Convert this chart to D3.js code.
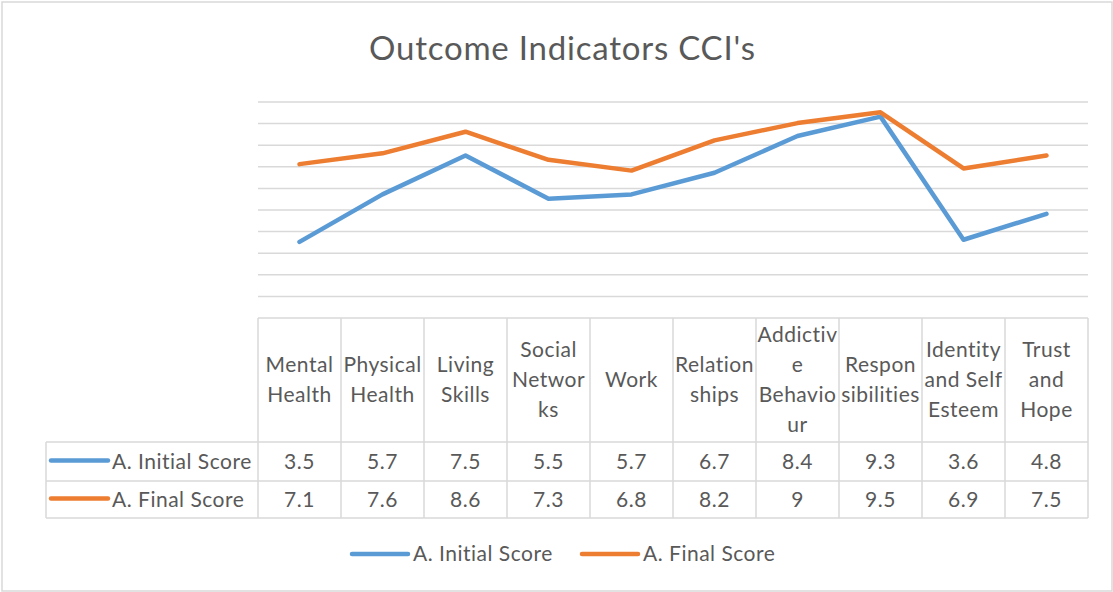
<!DOCTYPE html>
<html>
<head>
<meta charset="utf-8">
<script src="https://cdn.jsdelivr.net/npm/d3@7"></script>
<style>
  html, body { margin: 0; padding: 0; background: #fff; }
  svg { display: block; font-family: Lato, "Open Sans", sans-serif; }
  .lbl { font-size: 21px; letter-spacing: 0.5px; }
</style>
</head>
<body>
<div id="chart"></div>
<script>
// Outcome Indicators CCI's — line chart with Excel-style data table underneath.

const categories = [
  ["Mental", "Health"],
  ["Physical", "Health"],
  ["Living", "Skills"],
  ["Social", "Networ", "ks"],
  ["Work"],
  ["Relation", "ships"],
  ["Addictiv", "e", "Behavio", "ur"],
  ["Respon", "sibilities"],
  ["Identity", "and Self", "Esteem"],
  ["Trust", "and", "Hope"],
];
const initialScore = [3.5, 5.7, 7.5, 5.5, 5.7, 6.7, 8.4, 9.3, 3.6, 4.8];
const finalScore = [7.1, 7.6, 8.6, 7.3, 6.8, 8.2, 9, 9.5, 6.9, 7.5];
const seriesNames = ["A. Initial Score", "A. Final Score"];
const yDomain = [0, 10];

const W = 1113, H = 592;
const INK = "#595959", RULE = "#d9d9d9";
const colors = ["#5b9bd5", "#ed7d31"];
const series = [initialScore, finalScore];

const keys = categories.map((c) => c.join(" "));
const tbl = { left: 46, colLeft: 258, right: 1088, top: 318, head: 442, row1: 481, bottom: 518 };

const svg = d3.select("#chart").append("svg").attr("width", W).attr("height", H);

// outer chart frame
svg.append("rect").attr("x", 2).attr("y", 2).attr("width", W - 3).attr("height", H - 3)
  .attr("fill", "#fff").attr("stroke", RULE).attr("stroke-width", 1.5);

svg.append("text").attr("x", 369).attr("y", 60)
  .attr("textLength", 386).attr("lengthAdjust", "spacing")
  .attr("fill", INK).style("font-size", "33px").text("Outcome Indicators CCI's");

const x = d3.scaleBand().domain(keys).range([tbl.colLeft, tbl.right]);
const y = d3.scaleLinear().domain(yDomain).range([tbl.top - 0.5, 101.5]);
const cx = (k) => x(k) + x.bandwidth() / 2;

// horizontal gridlines (value 0 sits on the table's top border)
const grid = svg.append("g").attr("transform", `translate(${tbl.colLeft},0)`)
  .call(d3.axisLeft(y).tickValues(d3.range(1, 11)).tickSize(-(tbl.right - tbl.colLeft)).tickFormat(""));
grid.select(".domain").remove();
grid.selectAll("line").attr("stroke", RULE).attr("stroke-width", 1.5);

// lines
series.forEach((vals, i) => {
  svg.append("path").datum(vals)
    .attr("fill", "none").attr("stroke", colors[i]).attr("stroke-width", 4.5)
    .attr("stroke-linejoin", "round").attr("stroke-linecap", "round")
    .attr("d", d3.line().x((_, j) => cx(keys[j])).y((v) => y(v)));
});

// data table
const t = svg.append("g").attr("stroke", RULE).attr("stroke-width", 1.5);
const hline = (y0, x0) => t.append("line").attr("x1", x0).attr("x2", tbl.right).attr("y1", y0).attr("y2", y0);
hline(tbl.top, tbl.colLeft);
hline(tbl.head, tbl.left);
hline(tbl.row1, tbl.left);
hline(tbl.bottom, tbl.left);
t.append("line").attr("x1", tbl.left).attr("x2", tbl.left).attr("y1", tbl.head).attr("y2", tbl.bottom);
keys.concat([null]).forEach((k) => {
  const xx = k == null ? tbl.right : x(k);
  t.append("line").attr("x1", xx).attr("x2", xx).attr("y1", tbl.top).attr("y2", tbl.bottom);
});

// header labels
const lh = 30, headMid = (tbl.top + tbl.head) / 2;
categories.forEach((lines, i) => {
  const txt = svg.append("text").attr("class", "lbl").attr("text-anchor", "middle").attr("fill", INK);
  lines.forEach((ln, j) => {
    txt.append("tspan").attr("x", cx(keys[i]))
      .attr("y", headMid + (j - (lines.length - 1) / 2) * lh + 7).text(ln);
  });
});

// value rows
const rowMid = [(tbl.head + tbl.row1) / 2, (tbl.row1 + tbl.bottom) / 2];
series.forEach((vals, i) => {
  svg.append("line").attr("x1", 51).attr("x2", 108).attr("y1", rowMid[i] - 1).attr("y2", rowMid[i] - 1)
    .attr("stroke", colors[i]).attr("stroke-width", 4.5).attr("stroke-linecap", "round");
  svg.append("text").attr("class", "lbl").attr("x", 112).attr("y", rowMid[i] + 7).attr("fill", INK)
    .text(seriesNames[i]);
  vals.forEach((v, j) => {
    svg.append("text").attr("class", "lbl").attr("x", cx(keys[j])).attr("y", rowMid[i] + 7)
      .attr("text-anchor", "middle").attr("fill", INK).text(v);
  });
});

// legend
const lg = [{ x: 352 }, { x: 582 }];
lg.forEach((p, i) => {
  svg.append("line").attr("x1", p.x).attr("x2", p.x + 56).attr("y1", 554).attr("y2", 554)
    .attr("stroke", colors[i]).attr("stroke-width", 4.5).attr("stroke-linecap", "round");
  svg.append("text").attr("class", "lbl").attr("x", p.x + 61).attr("y", 561).attr("fill", INK)
    .text(seriesNames[i]);
});
</script>
</body>
</html>
